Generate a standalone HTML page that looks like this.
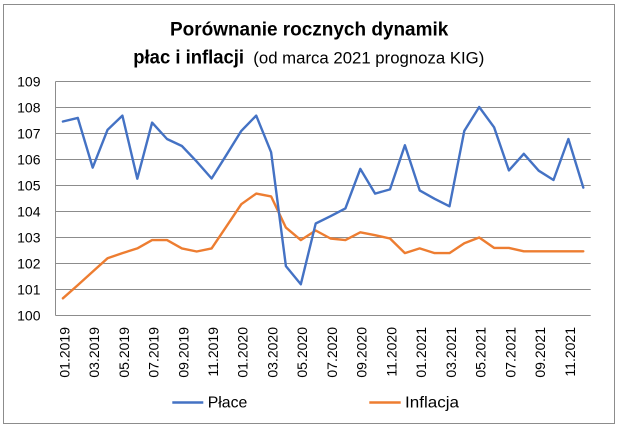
<!DOCTYPE html>
<html>
<head>
<meta charset="utf-8">
<style>
  html, body { margin: 0; padding: 0; background: #ffffff; }
  svg { display: block; }
  text { font-family: "Liberation Sans", "DejaVu Sans", sans-serif; fill: #000; }
</style>
</head>
<body>
<svg width="620" height="429" viewBox="0 0 620 429" xmlns="http://www.w3.org/2000/svg">
  <rect x="0" y="0" width="620" height="429" fill="#ffffff"/>
  <!-- chart border -->
  <rect x="3.5" y="4.5" width="611" height="419" fill="none" stroke="#8c8c8c" stroke-width="1"/>

  <!-- title -->
  <text x="170" y="35.5" font-size="19" font-weight="bold" textLength="278.3" lengthAdjust="spacingAndGlyphs">Porównanie rocznych dynamik</text>
  <text x="133.3" y="63.3" font-size="19" font-weight="bold" textLength="110.7" lengthAdjust="spacingAndGlyphs">płac i inflacji</text>
  <text x="253.3" y="63.3" font-size="17" textLength="231" lengthAdjust="spacingAndGlyphs">(od marca 2021 prognoza KIG)</text>

  <!-- gridlines -->
  <g stroke="#8c8c8c" stroke-width="1">
    <line x1="55.5" y1="81.5" x2="590.7" y2="81.5"/>
    <line x1="55.5" y1="107.5" x2="590.7" y2="107.5"/>
    <line x1="55.5" y1="133.5" x2="590.7" y2="133.5"/>
    <line x1="55.5" y1="159.5" x2="590.7" y2="159.5"/>
    <line x1="55.5" y1="185.5" x2="590.7" y2="185.5"/>
    <line x1="55.5" y1="211.5" x2="590.7" y2="211.5"/>
    <line x1="55.5" y1="237.5" x2="590.7" y2="237.5"/>
    <line x1="55.5" y1="263.5" x2="590.7" y2="263.5"/>
    <line x1="55.5" y1="289.5" x2="590.7" y2="289.5"/>
    <line x1="55.5" y1="315.5" x2="590.7" y2="315.5"/>
    <line x1="55.5" y1="81.5" x2="55.5" y2="315.5"/>
  </g>

  <!-- y labels -->
  <g font-size="14" text-anchor="end">
    <text x="40.5" y="86.3">109</text>
    <text x="40.5" y="112.3">108</text>
    <text x="40.5" y="138.3">107</text>
    <text x="40.5" y="164.3">106</text>
    <text x="40.5" y="190.3">105</text>
    <text x="40.5" y="216.3">104</text>
    <text x="40.5" y="242.3">103</text>
    <text x="40.5" y="268.3">102</text>
    <text x="40.5" y="294.3">101</text>
    <text x="40.5" y="320.3">100</text>
  </g>

  <!-- x labels -->
  <g font-size="14" text-anchor="end">
    <text transform="translate(69.3,327) rotate(-90)">01.2019</text>
    <text transform="translate(99.1,327) rotate(-90)">03.2019</text>
    <text transform="translate(128.8,327) rotate(-90)">05.2019</text>
    <text transform="translate(158.5,327) rotate(-90)">07.2019</text>
    <text transform="translate(188.3,327) rotate(-90)">09.2019</text>
    <text transform="translate(218.0,327) rotate(-90)">11.2019</text>
    <text transform="translate(247.7,327) rotate(-90)">01.2020</text>
    <text transform="translate(277.5,327) rotate(-90)">03.2020</text>
    <text transform="translate(307.2,327) rotate(-90)">05.2020</text>
    <text transform="translate(336.9,327) rotate(-90)">07.2020</text>
    <text transform="translate(366.7,327) rotate(-90)">09.2020</text>
    <text transform="translate(396.4,327) rotate(-90)">11.2020</text>
    <text transform="translate(426.1,327) rotate(-90)">01.2021</text>
    <text transform="translate(455.9,327) rotate(-90)">03.2021</text>
    <text transform="translate(485.6,327) rotate(-90)">05.2021</text>
    <text transform="translate(515.3,327) rotate(-90)">07.2021</text>
    <text transform="translate(545.1,327) rotate(-90)">09.2021</text>
    <text transform="translate(574.8,327) rotate(-90)">11.2021</text>
  </g>

  <!-- Inflacja series -->
  <polyline fill="none" stroke="#ED7D31" stroke-width="2.4" stroke-linejoin="round" stroke-linecap="round"
    points="62.9,298.3 77.8,285.1 92.7,271.6 107.5,258.3 122.4,253.1 137.3,248.4 152.1,240.1 167.0,240.1 181.9,248.4 196.7,251.5 211.6,248.4 226.5,226.3 241.3,204.2 256.2,193.6 271.1,196.4 285.9,227.6 300.8,240.1 315.7,230.5 330.5,238.5 345.4,240.1 360.3,232.3 375.1,235.2 390.0,238.5 404.9,253.1 419.7,248.4 434.6,253.1 449.5,253.1 464.3,243.2 479.2,237.5 494.1,247.9 508.9,247.9 523.8,251.3 538.7,251.3 553.5,251.3 568.4,251.3 583.3,251.3"/>

  <!-- Płace series -->
  <polyline fill="none" stroke="#4472C4" stroke-width="2.4" stroke-linejoin="round" stroke-linecap="round"
    points="62.9,121.5 77.8,117.9 92.7,167.6 107.5,129.9 122.4,115.6 137.3,178.7 152.1,122.6 167.0,139.0 181.9,146.0 196.7,161.6 211.6,178.5 226.5,154.8 241.3,130.9 256.2,115.6 271.1,152.2 285.9,266.1 300.8,284.3 315.7,223.5 330.5,216.2 345.4,208.4 360.3,168.9 375.1,193.6 390.0,189.4 404.9,145.2 419.7,190.4 434.6,198.8 449.5,206.3 464.3,130.9 479.2,107.0 494.1,127.3 508.9,170.4 523.8,153.8 538.7,170.7 553.5,180.0 568.4,139.0 583.3,187.6"/>

  <!-- legend -->
  <line x1="172.3" y1="402.5" x2="203.3" y2="402.5" stroke="#4472C4" stroke-width="2.4"/>
  <text x="207.7" y="407.7" font-size="16" textLength="39.6" lengthAdjust="spacingAndGlyphs">Płace</text>
  <line x1="369.3" y1="402.5" x2="400.7" y2="402.5" stroke="#ED7D31" stroke-width="2.4"/>
  <text x="405" y="407.7" font-size="16" textLength="54" lengthAdjust="spacingAndGlyphs">Inflacja</text>
</svg>
</body>
</html>
